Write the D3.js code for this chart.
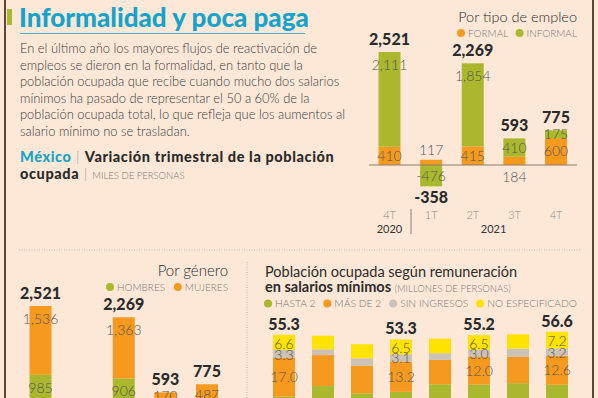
<!DOCTYPE html>
<html>
<meta charset="utf-8">
<title>Informalidad y poca paga</title>
<style>
body { margin: 0; background: #fde8d7; }
svg { display: block; }
text { font-family: Lato, "Open Sans", sans-serif; }
</style>
<body>
<svg id="chart" width="598" height="398"></svg>
<script src="https://d3js.org/d3.v7.min.js"></script>
<script>
// --- datos: variacion trimestral (miles de personas)
var periodos = ["4T-2020", "1T-2021", "2T-2021", "3T-2021", "4T-2021"];
var trimLabels = ["4T", "1T", "2T", "3T", "4T"];
var formal   = [410, 117, 415, 184, 600];
var informal = [2111, -476, 1854, 410, 175];
var totalTipo = [2521, -358, 2269, 593, 775];
var hombres  = [985, -178, 906, 423, 288];
var mujeres  = [1536, -180, 1363, 170, 487];
var totalGen = [2521, -358, 2269, 593, 775];

// --- datos: remuneracion en salarios minimos (millones de personas)
var periodosSal    = ["4T-2019", "1T-2020", "2T-2020", "3T-2020", "4T-2020", "1T-2021", "2T-2021", "3T-2021"];
var hasta2         = [28.4, 33.0, 29.9, 30.5, 33.8, 33.7, 34.3, 33.6];
var masDe2         = [17.0, 13.5, 12.0, 13.2, 10.6, 12.0, 11.4, 12.6];
var sinIngresos    = [3.3, 2.5, 3.2, 3.1, 2.9, 3.0, 3.6, 3.2];
var noEspecificado = [6.6, 5.9, 6.1, 6.5, 6.3, 6.5, 6.2, 7.2];
var totalSal       = [55.3, 54.9, 51.2, 53.3, 53.6, 55.2, 55.5, 56.6];
var salConEtiqueta = [true, false, false, true, false, true, false, true];

var verde = "#a9b82c", naranja = "#f59a1f", gris = "#cbc1b5", amarillo = "#fee200";
var cian = "#17a3c9", oscuro = "#2b2b2b", tenue = "#555";

var loc = d3.formatLocale({decimal: ".", thousands: ",", grouping: [3], currency: ["$", ""], minus: "-"});
var fmt = loc.format(","), fmt1 = loc.format(".1f");

var svg = d3.select("#chart");

// marco
svg.append("line").attr("x1", 5).attr("x2", 5).attr("y1", 0).attr("y2", 398)
  .attr("stroke", "#5b4636").attr("stroke-width", 2);
svg.append("line").attr("x1", 593).attr("x2", 593).attr("y1", 0).attr("y2", 398)
  .attr("stroke", "#5b4636").attr("stroke-width", 2);

// titulo
svg.append("rect").attr("x", 7).attr("y", 9).attr("width", 5).attr("height", 16).attr("fill", verde);
svg.append("text").attr("x", 19).attr("y", 27).text("Informalidad y poca paga")
  .attr("fill", cian).style("font-size", "26px").style("font-weight", 900);
svg.append("line").attr("x1", 20).attr("x2", 305).attr("y1", 33.5).attr("y2", 33.5)
  .attr("stroke", cian).attr("stroke-width", 0.8);

var parrafo = [
  "En el último año los mayores flujos de reactivación de",
  "empleos se dieron en la formalidad, en tanto que la",
  "población ocupada que recibe cuando mucho dos salarios",
  "mínimos ha pasado de representar el 50 a 60% de la",
  "población ocupada total, lo que refleja que los aumentos al",
  "salario mínimo no se trasladan."
];
svg.append("g").selectAll("text").data(parrafo).join("text")
  .attr("x", 20).attr("y", (d, i) => 53 + i * 16.6)
  .text(d => d)
  .attr("fill", "#3a3a3a").style("font-size", "12.9px").style("font-weight", 300);

// subtitulo
var sub1 = svg.append("text").attr("x", 20).attr("y", 162).style("font-size", "14.5px")
  .style("font-weight", 900).style("letter-spacing", "0.6px");
sub1.append("tspan").text("México").attr("fill", cian);
sub1.append("tspan").text(" | ").attr("fill", "#999").style("font-weight", 300);
sub1.append("tspan").text("Variación trimestral de la población").attr("fill", oscuro);
var sub2 = svg.append("text").attr("x", 20).attr("y", 179).style("font-size", "14.5px")
  .style("font-weight", 900).style("letter-spacing", "0.6px");
sub2.append("tspan").text("ocupada").attr("fill", oscuro);
sub2.append("tspan").text(" | ").attr("fill", "#999").style("font-weight", 300);
sub2.append("tspan").text("MILES DE PERSONAS").attr("fill", "#777").style("font-size", "9.5px")
  .style("font-weight", 300).style("letter-spacing", "0px");

// leyenda repartida entre x0 (borde del primer punto) y x1 (fin del ultimo texto)
function leyenda(g, items, x0, x1, y, fsz) {
  var grp = g.append("g");
  var textos = items.map(function(it) {
    return grp.append("text").attr("y", y + 3.5).attr("fill", "#777")
      .style("font-size", fsz + "px").style("font-weight", 300).text(it.label);
  });
  var anchos = textos.map(t => t.node().getComputedTextLength());
  var libre = (x1 - x0) - d3.sum(anchos) - items.length * 11;
  var gap = items.length > 1 ? libre / (items.length - 1) : 0;
  var x = x0 + 4;
  items.forEach(function(it, i) {
    grp.append("circle").attr("cx", x).attr("cy", y).attr("r", 4).attr("fill", it.color);
    textos[i].attr("x", x + 7);
    x = x + 7 + anchos[i] + gap + 4;
  });
}

// barras apiladas divergentes
function apiladas(g, cats, keys, series, colors, x, y, w) {
  var tabla = cats.map(function(c, i) {
    var row = {cat: c};
    keys.forEach(function(k, j) { row[k] = series[j][i]; });
    return row;
  });
  var stack = d3.stack().keys(keys).offset(d3.stackOffsetDiverging)(tabla);
  var capas = g.selectAll("g.capa").data(stack).join("g").attr("class", "capa")
    .attr("fill", (d, i) => colors[i]);
  capas.selectAll("rect").data(d => d).join("rect")
    .attr("x", d => x(d.data.cat) - w / 2)
    .attr("width", w)
    .attr("y", d => y(Math.max(d[0], d[1])))
    .attr("height", d => Math.abs(y(d[0]) - y(d[1])));
  return {tabla: tabla, stack: stack};
}

function etiquetas(g, res, series, totales, x, y, fsz) {
  res.stack.forEach(function(capa, j) {
    capa.forEach(function(d, i) {
      var top = y(Math.max(d[0], d[1])), bot = y(Math.min(d[0], d[1]));
      var h = bot - top, yy;
      if (h < 10 && (d[0] === 0 || d[1] === 0)) {
        yy = totales[i] > 0 ? y(0) + 17 : y(0) - 10;
      } else {
        yy = Math.min(top + 18, (top + bot) / 2 + 5);
      }
      g.append("text").attr("x", x(d.data.cat)).attr("y", yy).attr("text-anchor", "middle")
        .attr("fill", tenue).style("font-size", fsz + "px").style("font-weight", 300)
        .text(fmt(series[j][i]));
    });
  });
  res.tabla.forEach(function(row, i) {
    var neg = d3.sum(series, s => Math.min(0, s[i]));
    var pos = d3.sum(series, s => Math.max(0, s[i]));
    var yy = totales[i] > 0 ? y(pos) - 7 : y(neg) + 17;
    g.append("text").attr("x", x(row.cat)).attr("y", yy).attr("text-anchor", "middle")
      .attr("fill", oscuro).style("font-size", "16px").style("font-weight", 900).text(fmt(totales[i]));
  });
}

// ---------- Por tipo de empleo ----------
var gTipo = svg.append("g");
gTipo.append("text").attr("x", 577).attr("y", 22).attr("text-anchor", "end")
  .attr("fill", oscuro).style("font-size", "14.5px").style("font-weight", 300).text("Por tipo de empleo");
leyenda(gTipo, [{label: "FORMAL", color: naranja}, {label: "INFORMAL", color: verde}], 457, 577, 33, 10);

var xTipo = d3.scalePoint().domain(periodos).range([389.5, 556]);
var yTipo = d3.scaleLinear().domain([0, 2521]).range([165, 52]);

var resTipo = apiladas(gTipo, periodos, ["formal", "informal"], [formal, informal], [naranja, verde], xTipo, yTipo, 22);
gTipo.append("line").attr("x1", 369).attr("x2", 577).attr("y1", yTipo(0)).attr("y2", yTipo(0))
  .attr("stroke", "#8b7b6b").attr("stroke-width", 1);
etiquetas(gTipo, resTipo, [formal, informal], totalTipo, xTipo, yTipo, 14);

// eje x
gTipo.append("g").selectAll("text").data(periodos).join("text")
  .attr("x", d => xTipo(d)).attr("y", 219).attr("text-anchor", "middle")
  .attr("fill", "#888").style("font-size", "11px").style("font-weight", 300)
  .text((d, i) => trimLabels[i]);
gTipo.append("text").attr("x", xTipo(periodos[0])).attr("y", 233).attr("text-anchor", "middle")
  .attr("fill", "#333").style("font-size", "11px").text("2020");
gTipo.append("text").attr("x", (xTipo(periodos[1]) + xTipo(periodos[4])) / 2).attr("y", 233).attr("text-anchor", "middle")
  .attr("fill", "#333").style("font-size", "11px").text("2021");
gTipo.append("line").attr("x1", 411).attr("x2", 411).attr("y1", 209).attr("y2", 234)
  .attr("stroke", "#666").attr("stroke-width", 0.8);

// separadores punteados
svg.append("line").attr("x1", 19).attr("x2", 580).attr("y1", 250).attr("y2", 250)
  .attr("stroke", "#aaa").attr("stroke-width", 0.8).attr("stroke-dasharray", "1,1.5");
svg.append("line").attr("x1", 247).attr("x2", 247).attr("y1", 262).attr("y2", 398)
  .attr("stroke", "#aaa").attr("stroke-width", 0.8).attr("stroke-dasharray", "1,1.5");

// ---------- Por genero ----------
var gGen = svg.append("g");
gGen.append("text").attr("x", 228).attr("y", 276).attr("text-anchor", "end")
  .attr("fill", oscuro).style("font-size", "15px").style("font-weight", 300).text("Por género");
leyenda(gGen, [{label: "HOMBRES", color: verde}, {label: "MUJERES", color: naranja}], 106, 228, 287, 10);

var xGen = d3.scalePoint().domain(periodos).range([40.5, 207]);
var yGen = d3.scaleLinear().domain([0, 2521]).range([419, 306]);
var resGen = apiladas(gGen, periodos, ["hombres", "mujeres"], [hombres, mujeres], [verde, naranja], xGen, yGen, 22);
etiquetas(gGen, resGen, [hombres, mujeres], totalGen, xGen, yGen, 14);

// ---------- Salarios minimos ----------
var gSal = svg.append("g");
gSal.append("text").attr("x", 265).attr("y", 277).attr("fill", oscuro)
  .style("font-size", "14.5px").style("font-weight", 400).text("Población ocupada según remuneración");
var t2 = gSal.append("text").attr("x", 265).attr("y", 292).attr("fill", oscuro)
  .style("font-size", "14.5px").style("font-weight", 700);
t2.append("tspan").text("en salarios mínimos ");
t2.append("tspan").text("(MILLONES DE PERSONAS)").attr("fill", "#777")
  .style("font-size", "9.5px").style("font-weight", 300);

var legSal = [
  {label: "HASTA 2", color: verde},
  {label: "MÁS DE 2", color: naranja},
  {label: "SIN INGRESOS", color: gris},
  {label: "NO ESPECIFICADO", color: amarillo}
];
leyenda(gSal, legSal, 264, 577, 303.5, 10.3);

var xSal = d3.scalePoint().domain(periodosSal).range([284, 557]);
var ySal = d3.scaleLinear().domain([0, 60]).range([462, 324]);
var seriesSal = [hasta2, masDe2, sinIngresos, noEspecificado];
var resSal = apiladas(gSal, periodosSal, ["hasta2", "masDe2", "sinIngresos", "noEspecificado"], seriesSal,
  [verde, naranja, gris, amarillo], xSal, ySal, 22);

resSal.tabla.forEach(function(row, i) {
  if (!salConEtiqueta[i]) return;
  var cx = xSal(row.cat);
  var topY = ySal(resSal.stack[3][i][1]);
  var capa = function(j) { return resSal.stack[j][i]; };
  var ys = [
    null,
    (ySal(capa(1)[0]) + ySal(capa(1)[1])) / 2 + 5,
    ySal(capa(2)[0]) + 2,
    topY + 14
  ];
  [1, 2, 3].forEach(function(j) {
    gSal.append("text").attr("x", cx).attr("y", ys[j]).attr("text-anchor", "middle")
      .attr("fill", tenue).style("font-size", "14px").style("font-weight", 300)
      .text(fmt1(seriesSal[j][i]));
  });
  gSal.append("text").attr("x", cx).attr("y", topY - 5).attr("text-anchor", "middle")
    .attr("fill", oscuro).style("font-size", "16px").style("font-weight", 900).text(fmt1(totalSal[i]));
});
</script>
</body>
</html>
